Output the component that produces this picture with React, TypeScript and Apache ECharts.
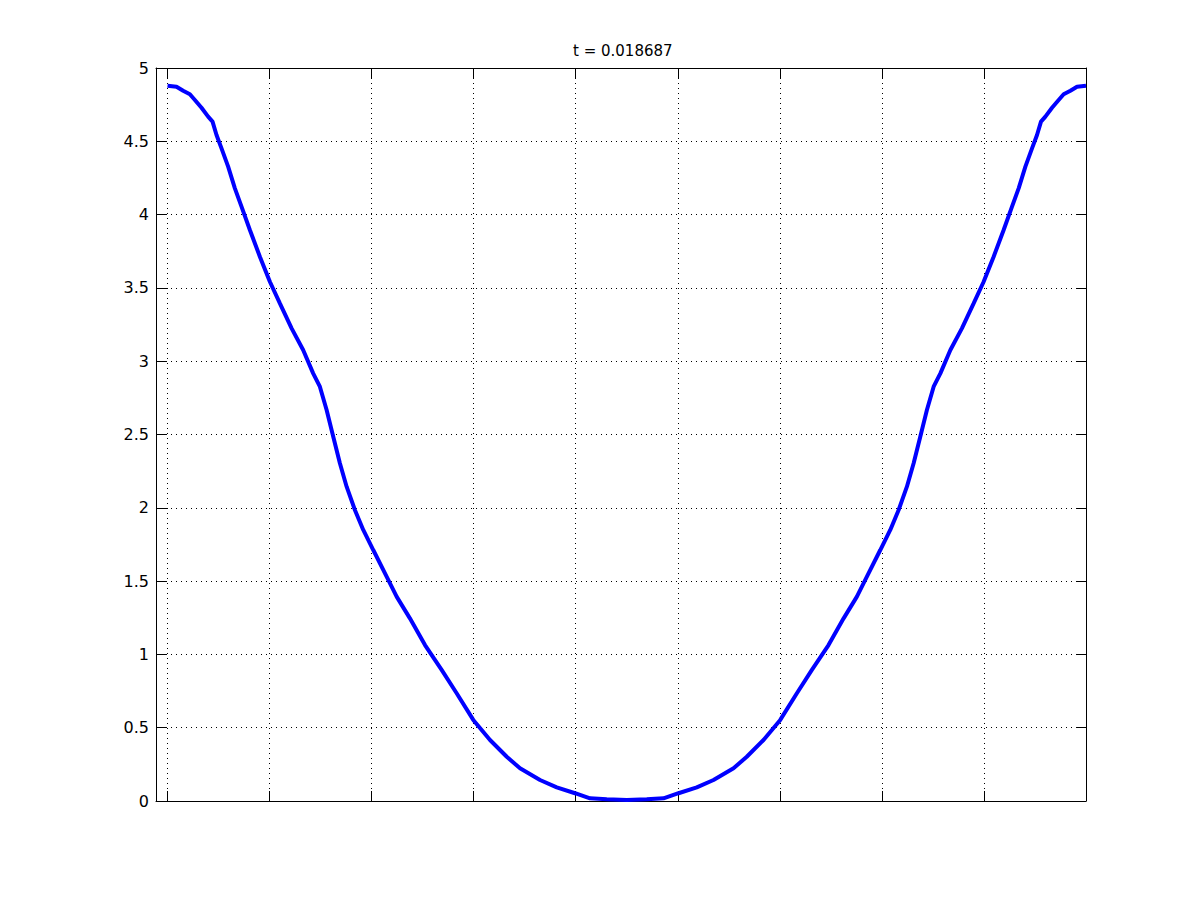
import React, { useEffect, useRef } from "react";
import * as echarts from "echarts";

const titleText = "t = 0.018687";

const xLeft = [0, 0.088, 0.153, 0.219, 0.268, 0.333, 0.398, 0.441, 0.48, 0.529, 0.594, 0.66, 0.725, 0.807, 0.905, 1.003, 1.101, 1.216, 1.329, 1.427, 1.493, 1.559, 1.624, 1.689, 1.755, 1.836, 1.918, 2.016, 2.147, 2.245, 2.375, 2.523, 2.686, 2.833, 2.996, 3.16, 3.324, 3.454, 3.65, 3.814, 3.993, 4.14, 4.304, 4.5];
const yLeft = [4.879, 4.872, 4.845, 4.821, 4.782, 4.729, 4.668, 4.634, 4.543, 4.452, 4.327, 4.179, 4.054, 3.895, 3.713, 3.542, 3.395, 3.224, 3.076, 2.917, 2.826, 2.667, 2.485, 2.304, 2.144, 1.985, 1.849, 1.712, 1.53, 1.394, 1.246, 1.064, 0.894, 0.735, 0.553, 0.416, 0.302, 0.223, 0.143, 0.093, 0.053, 0.018, 0.012, 0.007];
const xRight = [4.696, 4.86, 5.007, 5.186, 5.35, 5.546, 5.676, 5.84, 6.004, 6.167, 6.314, 6.477, 6.625, 6.755, 6.853, 6.984, 7.082, 7.164, 7.245, 7.311, 7.376, 7.441, 7.507, 7.573, 7.671, 7.784, 7.899, 7.997, 8.095, 8.193, 8.275, 8.34, 8.406, 8.471, 8.52, 8.559, 8.602, 8.667, 8.732, 8.781, 8.847, 8.912, 9];
const yRight = [0.012, 0.018, 0.053, 0.093, 0.143, 0.223, 0.302, 0.416, 0.553, 0.735, 0.894, 1.064, 1.246, 1.394, 1.53, 1.712, 1.849, 1.985, 2.144, 2.304, 2.485, 2.667, 2.826, 2.917, 3.076, 3.224, 3.395, 3.542, 3.713, 3.895, 4.054, 4.179, 4.327, 4.452, 4.543, 4.634, 4.668, 4.729, 4.782, 4.821, 4.845, 4.872, 4.879];

const xMin = -0.113;
const xMax = 9;
const yMin = 0;
const yMax = 5;
const yStep = 0.5;

export default function App() {
  const ref = useRef<HTMLDivElement>(null);
  useEffect(() => {
    if (!ref.current) return;
    const chart = echarts.init(ref.current, null, { renderer: "svg" });
    const data: number[][] = [];
    xLeft.forEach((x, i) => data.push([x, yLeft[i]]));
    xRight.forEach((x, i) => data.push([x, yRight[i]]));
    const font = "DejaVu Sans";
    const axisLine = { show: true, onZero: false, lineStyle: { color: "#000", width: 1 } };
    const tick = { show: true, inside: true, length: 10, lineStyle: { color: "#000", width: 1 } };
    const grid = { show: true, lineStyle: { color: "#000", width: 1, type: [1, 4] as any } };
    chart.setOption({
      animation: false,
      backgroundColor: "#fff",
      title: {
        text: titleText,
        left: 568,
        top: 38,
        textStyle: { fontFamily: font, fontSize: 15, fontWeight: "normal", color: "#000" },
      },
      grid: { left: 156, right: 114, top: 68, bottom: 99, containLabel: false },
      xAxis: [
        {
          type: "value",
          min: xMin,
          max: xMax,
          minInterval: 1,
          maxInterval: 1,
          axisLine,
          axisTick: tick,
          axisLabel: { show: false },
          splitLine: grid,
        },
        {
          type: "value",
          position: "top",
          min: xMin,
          max: xMax,
          minInterval: 1,
          maxInterval: 1,
          axisLine,
          axisTick: tick,
          axisLabel: { show: false },
          splitLine: { show: false },
        },
      ],
      yAxis: [
        {
          type: "value",
          min: yMin,
          max: yMax,
          interval: yStep,
          axisLine,
          axisTick: tick,
          axisLabel: { show: true, margin: 7, fontFamily: font, fontSize: 16, color: "#000" },
          splitLine: grid,
        },
        {
          type: "value",
          position: "right",
          min: yMin,
          max: yMax,
          interval: yStep,
          axisLine,
          axisTick: tick,
          axisLabel: { show: false },
          splitLine: { show: false },
        },
      ],
      series: [
        {
          type: "line",
          data,
          showSymbol: false,
          symbol: "none",
          smooth: false,
          lineStyle: { color: "#0000ff", width: 4 },
          z: 5,
        },
      ],
    });
    return () => chart.dispose();
  }, []);
  return (
    <div
      ref={ref}
      style={{ position: "fixed", left: 0, top: 0, width: 1200, height: 900, background: "#fff" }}
    />
  );
}
